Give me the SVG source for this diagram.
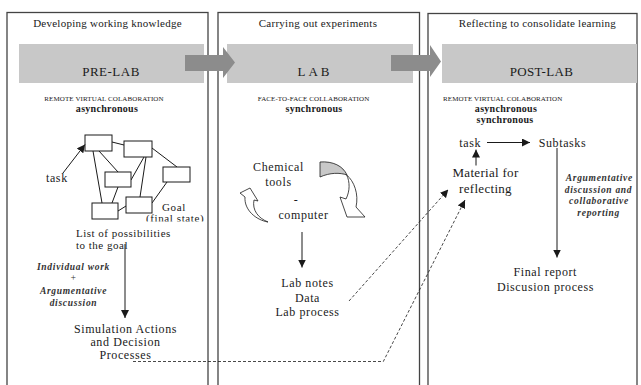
<svg xmlns="http://www.w3.org/2000/svg" width="641" height="385" viewBox="0 0 641 385">
<defs>
<style>
text{font-family:"Liberation Serif","Times New Roman",serif;fill:#1a1a1a}
.hdr{font-size:11px;letter-spacing:0.25px;text-anchor:middle}
.band{fill:#c8c8c8}
.big{fill:#8c8c8c}
.ph{font-size:13px;letter-spacing:0.5px;text-anchor:middle}
.sc{font-size:7px;letter-spacing:0.1px}
.bold{font-size:10px;font-weight:bold;letter-spacing:0.3px;text-anchor:middle}
.t{font-size:12px;letter-spacing:0.6px}
.m{text-anchor:middle}
.it{font-size:9.5px;font-style:italic;font-weight:bold;letter-spacing:0.7px;text-anchor:middle;fill:#333}
.panel{fill:#fff;stroke:#444;stroke-width:1.3}
.box{fill:#fff;stroke:#1a1a1a;stroke-width:1}
.ln{stroke:#1a1a1a;stroke-width:1;fill:none}
.dash{stroke:#1a1a1a;stroke-width:0.8;fill:none;stroke-dasharray:3 2}
</style>
<marker id="ah" viewBox="0 0 10 10" refX="10" refY="5" markerWidth="8" markerHeight="8" markerUnits="userSpaceOnUse" orient="auto">
<path d="M0,0 L10,5 L0,10 Z" fill="#1a1a1a"/>
</marker>
<clipPath id="clipfs"><rect x="140" y="200" width="70" height="21.5"/></clipPath>
</defs>
<rect width="641" height="385" fill="#fff"/>

<g id="panel-prelab">
<rect class="panel" x="7" y="12.5" width="201" height="380"/>
<text class="hdr" x="107.5" y="27">Developing  working knowledge</text>
<rect class="band" x="19" y="44" width="185" height="39"/>
<text class="ph" x="111" y="76">PRE-LAB</text>
<text class="sc m" x="104" y="100.5" text-anchor="middle">REMOTE VIRTUAL COLABORATION</text>
<text class="bold" x="107" y="111.5">asynchronous</text>
</g>

<g id="panel-lab">
<rect class="panel" x="218" y="12.5" width="201.5" height="380"/>
<text class="hdr" x="318" y="27">Carrying out experiments</text>
<rect class="band" x="227" y="44" width="186" height="39"/>
<text class="ph" x="315" y="76" style="letter-spacing:3px">LAB</text>
<text class="sc" x="313.5" y="100.5" text-anchor="middle">FACE-TO-FACE  COLLABORATION</text>
<text class="bold" x="314" y="111.5">synchronous</text>
</g>

<g id="panel-postlab">
<rect class="panel" x="428" y="13.5" width="209" height="380"/>
<text class="hdr" x="537.5" y="27">Reflecting  to consolidate learning</text>
<rect class="band" x="442" y="44" width="195" height="39"/>
<text class="ph" x="541.5" y="76" style="letter-spacing:0.3px">POST-LAB</text>
<text class="sc" x="443" y="100.5">REMOTE VIRTUAL COLABORATION</text>
<text class="bold" x="506" y="111.5">asynchronous</text>
<text class="bold" x="505" y="123">synchronous</text>
</g>

<g id="phase-arrows">
<path class="big" d="M185,55 L223,55 L223,47 L235,62.5 L223,78 L223,71 L185,71 Z"/>
<path class="big" d="M391,55 L430,55 L430,45 L441,61.5 L430,77 L430,71 L391,71 Z"/>
</g>

<g id="network">
<g class="ln">
<line x1="112" y1="142" x2="124" y2="145"/>
<line x1="99" y1="151" x2="118" y2="172"/>
<line x1="93" y1="151" x2="102" y2="203"/>
<line x1="144" y1="157" x2="131" y2="180"/>
<line x1="146" y1="157" x2="140" y2="197"/>
<line x1="152" y1="148" x2="177" y2="167"/>
<line x1="118" y1="187" x2="112" y2="203"/>
<line x1="118" y1="211" x2="126" y2="206"/>
<line x1="167" y1="182" x2="152" y2="203"/>
</g>
<rect class="box" x="85" y="135" width="27" height="16"/>
<rect class="box" x="124" y="141" width="28" height="16"/>
<rect class="box" x="105" y="172" width="26" height="15"/>
<rect class="box" x="163" y="167" width="27" height="15"/>
<rect class="box" x="92" y="203" width="26" height="16"/>
<rect class="box" x="126" y="197" width="26" height="16"/>
</g>

<g id="prelab-texts">
<text class="t" x="46" y="182">task</text>
<text class="t" x="162" y="211" style="font-size:11px">Goal</text>
<text class="t" x="146" y="222" style="font-size:11px" clip-path="url(#clipfs)">(final state)</text>
<text class="t" x="76" y="237" style="font-size:11px;letter-spacing:0.5px">List of possibilities</text>
<text class="t" x="76" y="248.5" style="font-size:11px;letter-spacing:0.5px">to the goal</text>
<text class="it" x="73.5" y="270">Individual  work</text>
<text class="it" x="73.5" y="281" style="font-weight:normal">+</text>
<text class="it" x="73.5" y="294.3">Argumentative</text>
<text class="it" x="73.5" y="305.5">discussion</text>
<text class="t m" x="125.5" y="332.7">Simulation Actions</text>
<text class="t m" x="125.5" y="345.5">and Decision</text>
<text class="t m" x="125.5" y="359">Processes</text>
</g>

<g id="lab-texts">
<text class="t m" x="278.5" y="170.7">Chemical</text>
<text class="t m" x="278.5" y="185.5">tools</text>
<text class="t m" x="296" y="204">-</text>
<text class="t m" x="303.5" y="219">computer</text>
<text class="t m" x="307.5" y="286.7">Lab notes</text>
<text class="t m" x="307.5" y="301.5">Data</text>
<text class="t m" x="307.5" y="315.7">Lab process</text>
</g>

<g id="cycle-arrows">
<path d="M320,162 C333,161 343,166 347,175 C340,172.5 330,172.5 320,177 Z" fill="#c8c8c8" stroke="#1a1a1a" stroke-width="0.8"/>
<path d="M346.7,175 C354,181 359,194 356,207 L365,217 L347,217 L340,197 L346,199 C350,191 350,182 346.7,175 Z" fill="#fff" stroke="#1a1a1a" stroke-width="0.8"/>
<path d="M268,222 C256,220 244,210 245,197 L240,193 L250,188 L258,201 L254,200 C252,210 258,218 268,222 Z" fill="#fff" stroke="#1a1a1a" stroke-width="0.8"/>
</g>

<g id="postlab-texts">
<text class="t" x="459.3" y="147.3">task</text>
<text class="t m" x="562.5" y="147.3">Subtasks</text>
<text class="t m" x="485.5" y="177.3" style="font-size:13px;letter-spacing:0.3px">Material for</text>
<text class="t m" x="485.5" y="192.5" style="font-size:13px;letter-spacing:0.3px">reflecting</text>
<text class="it" x="599.3" y="181">Argumentative</text>
<text class="it" x="598.5" y="192.7">discussion and</text>
<text class="it" x="599" y="204">collaborative</text>
<text class="it" x="598.7" y="216">reporting</text>
<text class="t m" x="545.3" y="276">Final report</text>
<text class="t m" x="545.5" y="290.7">Discusion process</text>
</g>

<g id="connectors">
<line class="ln" x1="63" y1="173" x2="85" y2="144.5" marker-end="url(#ah)"/>
<line class="ln" x1="125" y1="244" x2="125" y2="318" marker-end="url(#ah)"/>
<line class="ln" x1="302" y1="232" x2="302" y2="267.5" marker-end="url(#ah)"/>
<line class="ln" x1="487" y1="142.5" x2="530" y2="142.5" marker-end="url(#ah)"/>
<line class="ln" x1="476" y1="165.5" x2="476" y2="149.5" marker-end="url(#ah)"/>
<line class="ln" x1="557" y1="148" x2="557" y2="257.5" marker-end="url(#ah)"/>
<line class="dash" x1="349" y1="301" x2="448.3" y2="189.5" marker-end="url(#ah)"/>
<polyline class="dash" points="133,361.5 383.3,361.5 465,200" marker-end="url(#ah)"/>
</g>
</svg>
